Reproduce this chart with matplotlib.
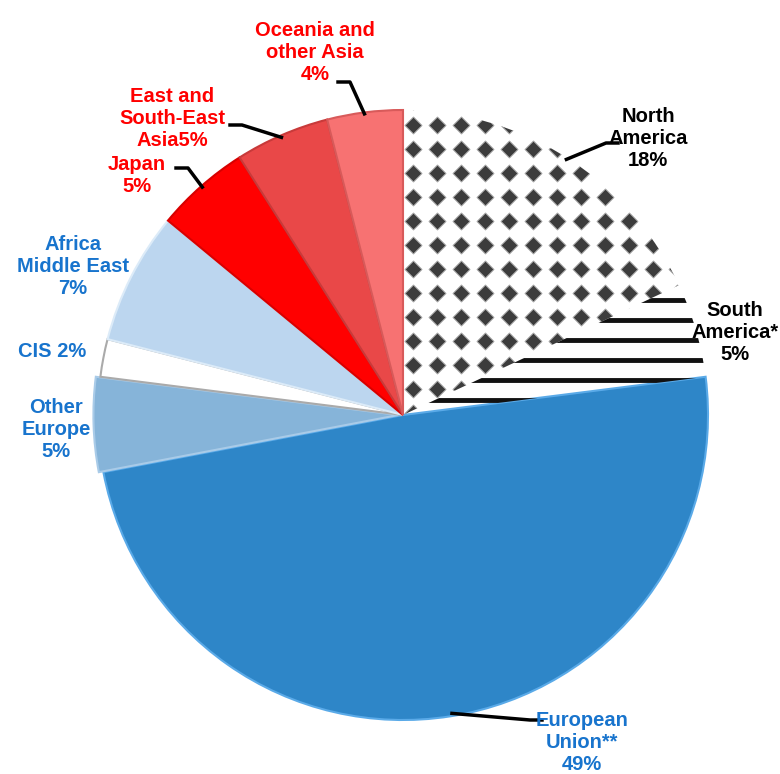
import numpy as np
import matplotlib
matplotlib.use('Agg')
from matplotlib import pyplot as plt

# data, clockwise from 12 o'clock
regions = ['North\nAmerica', 'South\nAmerica*', 'European\nUnion**', 'Other\nEurope', 'CIS',
           'Africa\nMiddle East', 'Japan', 'East and\nSouth-East\nAsia', 'Oceania and\nother Asia']
shares = [18, 5, 49, 5, 2, 7, 5, 5, 4]
pct_labels = ['18%', '5%', '49%', '5%', '2%', '7%', '5%', '5%', '4%']

colors = ['#FFFFFF', '#FFFFFF', '#2E86C8', '#86B4D9', '#FFFFFF', '#BCD6EF', '#FF0000', '#E94848', '#F77272']
edges = ['#FFFFFF', '#FFFFFF', '#5AAAE8', '#A9CBE8', '#AAAAAA', '#DCEBF8', '#D80000', '#C83A3A', '#D85A5A']
text_colors = ['black', 'black', '#1874CD', '#1874CD', '#1874CD', '#1874CD', 'red', 'red', 'red']

# image pixel -> data units (pie radius = 305 px, centre at 403,415)
def px(x, y):
    return (x - 403) / 305.0, (415 - y) / 305.0

# label centres and leader elbows (pixels), None = no leader
label_pos = [(648, 138), (735, 333), (582, 742), (56, 430), (52, 352),
             (73, 267), (137, 175), (172, 118), (315, 52)]
elbows = [(606, 143), None, (530, 720), None, None, None, (188, 168), (242, 125), (350, 82)]

plt.rcParams['font.family'] = ['Liberation Sans', 'DejaVu Sans']

fig = plt.figure(figsize=(7.8, 7.74), dpi=100)
ax = fig.add_axes([0, 0, 1, 1])

wedges, _ = ax.pie(shares, colors=colors, startangle=90, counterclock=False,
                   radius=1, center=(0, 0),
                   wedgeprops=dict(linewidth=1.5))
for w, ec in zip(wedges, edges):
    w.set_edgecolor(ec)
wedges[3].set_center((-0.015, 0.0))

# diamond pattern for North America
step = 24 / 305.0
gx, gy = np.meshgrid(np.arange(0.033, 1.05, step), np.arange(0.006, 1.05, step))
sc = ax.scatter(gx.ravel(), gy.ravel(), marker='D', s=75, color='#3C3C3C',
                edgecolors='#AAAAAA', linewidths=0.7, zorder=3)
sc.set_clip_path(wedges[0])

# stripe pattern for South America
sy = np.arange(0.049, 0.5, 20 / 305.0)
hl = ax.hlines(sy, 0.02, 1.05, color='#111111', linewidth=3.5, zorder=3)
hl.set_clip_path(wedges[1])

# labels and leader lines
cum = np.cumsum([0] + shares)
for i, name in enumerate(regions):
    if 'South-East' in name:
        txt = name + pct_labels[i]
    elif name == 'CIS':
        txt = name + ' ' + pct_labels[i]
    else:
        txt = name + '\n' + pct_labels[i]
    tx, ty = px(*label_pos[i])
    ax.text(tx, ty, txt, ha='center', va='center', fontsize=14.5, fontweight='bold',
            color=text_colors[i], linespacing=1.2, zorder=5)
    if elbows[i] is not None:
        mid = np.deg2rad(90 - 3.6 * (cum[i] + cum[i + 1]) / 2)
        sx, syy = 0.99 * np.cos(mid), 0.99 * np.sin(mid)
        ex, ey = px(*elbows[i])
        lx = ex + (0.045 if ex > sx else -0.045)
        ax.plot([sx, ex, lx], [syy, ey, ey], color='black', linewidth=2.5,
                solid_capstyle='butt', zorder=4)

ax.set_xlim(-403 / 305.0, 377 / 305.0)
ax.set_ylim(-359 / 305.0, 415 / 305.0)
ax.set_aspect('equal')
ax.axis('off')

fig.savefig('out.png', dpi=100)
